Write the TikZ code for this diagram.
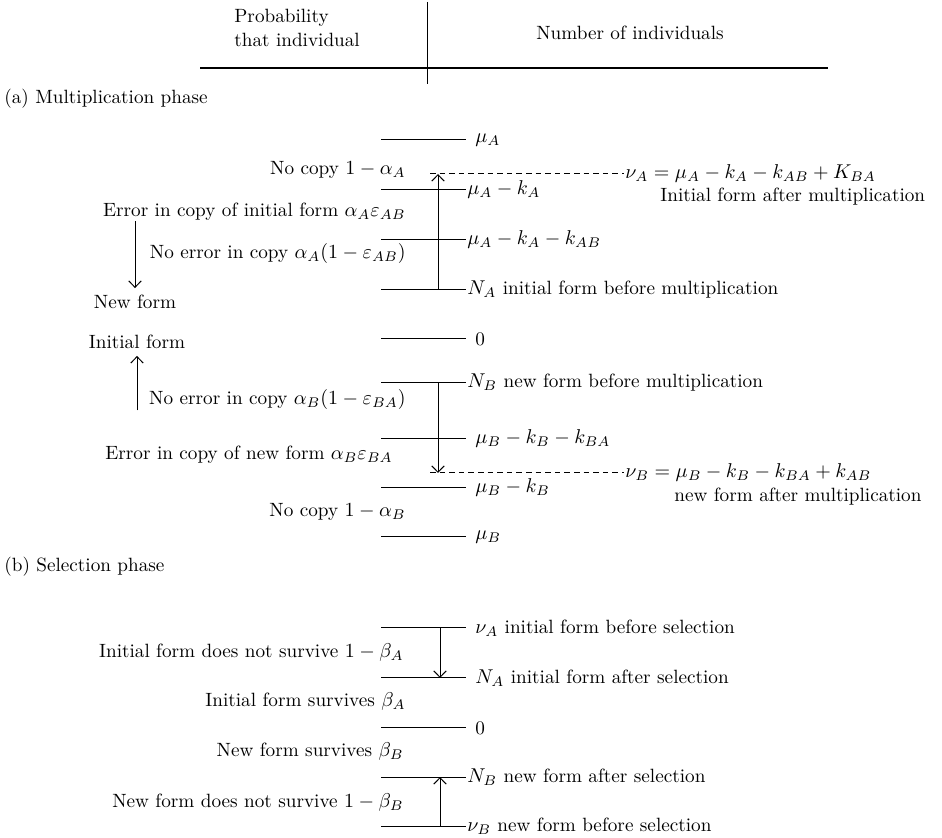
\documentclass[tikz,border=0pt]{standalone}
\usepackage{amssymb}
\usetikzlibrary{arrows.meta,positioning}

\begin{document}
\begin{tikzpicture}[x=0.5pt,y=-0.5pt,>={Straight Barb[length=3.2pt,width=6.2pt]},font=\fontsize{9.6}{12}\selectfont]
    \tikzstyle{lvl}=[line width=0.5pt]
    \tikzstyle{inv}=[inner sep=0]
    \tikzstyle{lab}=[inner sep=0.5pt,anchor=west]
    \tikzstyle{gap}=[inner xsep=4.5pt,inner ysep=0.5pt,anchor=west]
    \tikzstyle{prob}=[inner sep=0,anchor=east]
    \tikzstyle{dsh}=[line width=0.5pt,dash pattern=on 2.8pt off 2pt]
    \useasboundingbox (0,0) rectangle (942,838);
    % header
    \node[inv,align=left,anchor=west] (prob) at (234,28) {Probability\\that individual} ;
    \node[inv] (num) at (630,33) {Number of individuals} ;
    \coordinate (vtop) at (427,2) ;
    \coordinate (vbot) at (427,84) ;
    \coordinate (rl) at (200,68) ;
    \coordinate (rr) at (828,68) ;
    \draw[line width=0.9pt] (rl) -- (rr) ;
    \draw[lvl] (vtop) -- (vbot) ;
    % (a) multiplication phase
    \node[inv,anchor=west] (phA) at (4,99) {(a) Multiplication phase} ;
    \coordinate (muAl) at (381,140) ;
    \coordinate (mkAl) at (381,190) ;
    \coordinate (mkkAl) at (381,240) ;
    \coordinate (NAl) at (381,290) ;
    \coordinate (zAl) at (381,339) ;
    \coordinate (NBl) at (381,383) ;
    \coordinate (mkkBl) at (381,439) ;
    \coordinate (mkBl) at (381,488) ;
    \coordinate (muBl) at (381,537) ;
    \coordinate (nuAl) at (430,174) ;
    \coordinate (nuBl) at (430,473) ;
    \node[gap] (muA) at (466,140) {$\mu_A$} ;
    \node[lab] (mkA) at (466,190) {$\mu_A - k_A$} ;
    \node[lab] (mkkA) at (466,240) {$\mu_A - k_A - k_{AB}$} ;
    \node[lab] (NA) at (466,290) {$N_A$ initial form before multiplication} ;
    \node[gap] (zA) at (466,339) {0} ;
    \node[lab] (NB) at (466,383) {$N_B$ new form before multiplication} ;
    \node[gap] (mkkB) at (466,439) {$\mu_B - k_B - k_{BA}$} ;
    \node[gap] (mkB) at (466,488) {$\mu_B - k_B$} ;
    \node[gap] (muB) at (466,537) {$\mu_B$} ;
    \node[lab] (nuA) at (624,174) {$\nu_A = \mu_A - k_A - k_{AB} + K_{BA}$} ;
    \node[inv,anchor=west] (nuAtxt) at (660,197) {Initial form after multiplication} ;
    \node[lab] (nuB) at (624,473) {$\nu_B = \mu_B - k_B - k_{BA} + k_{AB}$} ;
    \node[inv,anchor=west] (nuBtxt) at (674,497) {new form after multiplication} ;
    \draw[lvl] (muAl) -- (muAl -| muA.west) ;
    \draw[lvl] (mkAl) -- (mkAl -| mkA.west) ;
    \draw[lvl] (mkkAl) -- (mkkAl -| mkkA.west) ;
    \draw[lvl] (NAl) -- (NAl -| NA.west) ;
    \draw[lvl] (zAl) -- (zAl -| zA.west) ;
    \draw[lvl] (NBl) -- (NBl -| NB.west) ;
    \draw[lvl] (mkkBl) -- (mkkBl -| mkkB.west) ;
    \draw[lvl] (mkBl) -- (mkBl -| mkB.west) ;
    \draw[lvl] (muBl) -- (muBl -| muB.west) ;
    \draw[dsh] (nuAl) -- (nuAl -| nuA.west) ;
    \draw[dsh] (nuBl) -- (nuBl -| nuB.west) ;
    \coordinate (upA) at (438,290) ;
    \coordinate (dnB) at (438,383) ;
    \draw[lvl,->] (upA) -- (upA |- nuAl) ;
    \draw[lvl,->] (dnB) -- (dnB |- nuBl) ;
    \node[prob] (nocA) at (406,170) {No copy $1 - \alpha_A$} ;
    \node[prob] (errA) at (406,212) {Error in copy of initial form $\alpha_A\varepsilon_{AB}$} ;
    \node[prob] (okA) at (406,254) {No error in copy $\alpha_A(1 - \varepsilon_{AB})$} ;
    \node (newf) at (135,302) {New form} ;
    \node (initf) at (137,342) {Initial form} ;
    \node[prob] (okB) at (406,400) {No error in copy $\alpha_B(1 - \varepsilon_{BA})$} ;
    \node[prob] (errB) at (393,455) {Error in copy of new form $\alpha_B\varepsilon_{BA}$} ;
    \node[prob] (nocB) at (406,512) {No copy $1 - \alpha_B$} ;
    \draw[lvl,->] (newf.north |- errA.south) -- (newf.north) ;
    \draw[lvl,->] (initf.south |- okB.south) -- (initf.south) ;
    % (b) selection phase
    \node[inv,anchor=west] (phB) at (4,567) {(b) Selection phase} ;
    \coordinate (nuSAl) at (381,628) ;
    \coordinate (NSAl) at (381,678) ;
    \coordinate (zSl) at (381,728) ;
    \coordinate (NSBl) at (381,777) ;
    \coordinate (nuSBl) at (381,826) ;
    \node[gap] (nuSA) at (466,628) {$\nu_A$ initial form before selection} ;
    \node[gap] (NSA) at (466,678) {$N_A$ initial form after selection} ;
    \node[gap] (zS) at (466,728) {0} ;
    \node[lab] (NSB) at (466,777) {$N_B$ new form after selection} ;
    \node[lab] (nuSB) at (466,826) {$\nu_B$ new form before selection} ;
    \draw[lvl] (nuSAl) -- (nuSAl -| nuSA.west) ;
    \draw[lvl] (NSAl) -- (NSAl -| NSA.west) ;
    \draw[lvl] (zSl) -- (zSl -| zS.west) ;
    \draw[lvl] (NSBl) -- (NSBl -| NSB.west) ;
    \draw[lvl] (nuSBl) -- (nuSBl -| nuSB.west) ;
    \coordinate (dnS) at (440,628) ;
    \coordinate (upS) at (440,826) ;
    \draw[lvl,->] (dnS) -- (dnS |- NSAl) ;
    \draw[lvl,->] (upS) -- (upS |- NSBl) ;
    \node[prob] (dieA) at (404,653) {Initial form does not survive $1 - \beta_A$} ;
    \node[prob] (livA) at (406,702) {Initial form survives $\beta_A$} ;
    \node[prob] (livB) at (404,751) {New form survives $\beta_B$} ;
    \node[prob] (dieB) at (404,802) {New form does not survive $1 - \beta_B$} ;
  \end{tikzpicture}
\end{document}
